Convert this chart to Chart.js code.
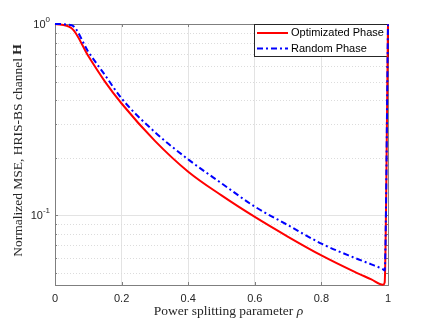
<!DOCTYPE html>
<html>
<head>
<meta charset="utf-8">
<script src="https://cdn.jsdelivr.net/npm/chart.js@4.4.1/dist/chart.umd.min.js"></script>
<style>
html,body{margin:0;padding:0;background:#fff;}
canvas{display:block;}
</style>
</head>
<body>
<canvas id="mse" width="429" height="323"></canvas>
<script>
// values
var rho      = [0, 0.05, 0.1, 0.15, 0.2, 0.3, 0.4, 0.5, 0.6, 0.7, 0.8, 0.9, 0.95, 0.985, 0.99, 1];
var mseOpt   = [1.0, 0.95, 0.68, 0.50, 0.384, 0.245, 0.169, 0.127, 0.098, 0.0772, 0.0617, 0.0506, 0.0462, 0.0433, 0.0445, 1.0];
var mseRand  = [1.0, 0.985, 0.716, 0.541, 0.408, 0.272, 0.196, 0.147, 0.111, 0.0887, 0.0711, 0.0599, 0.0554, 0.0522, 0.0515, 1.0];
var seriesNames = ['Optimizated Phase', 'Random Phase'];
var xTicks = [0, 0.2, 0.4, 0.6, 0.8, 1];
var yMajor = [0.1, 1];
var yMinor = [0.05, 0.06, 0.07, 0.08, 0.09, 0.2, 0.3, 0.4, 0.5, 0.6, 0.7, 0.8, 0.9];

var SANS = '"Liberation Sans", Arial, sans-serif';
var SERIF = '"Liberation Serif", "Times New Roman", serif';
var TXT = '#262626';
var AXIS = '#7f7f7f';
var GRID = '#e3e3e3';

function pts(ys){
	return rho.map(function(x, i){ return {x: x, y: ys[i]}; });
}

var matlabLook = {
	id: 'matlabLook',
	beforeDatasetsDraw: function(chart){
		var ctx = chart.ctx, a = chart.chartArea, ys = chart.scales.y, xs = chart.scales.x;
		ctx.save();
		// minor dotted grid
		ctx.strokeStyle = '#dcdcdc';
		ctx.lineWidth = 1;
		ctx.setLineDash([1, 2]);
		yMinor.forEach(function(v){
			var y = Math.round(ys.getPixelForValue(v)) + 0.5;
			ctx.beginPath(); ctx.moveTo(a.left, y); ctx.lineTo(a.right, y); ctx.stroke();
		});
		ctx.setLineDash([]);
		// box
		ctx.strokeStyle = AXIS;
		ctx.strokeRect(Math.round(a.left) + 0.5, Math.round(a.top) + 0.5, Math.round(a.right - a.left), Math.round(a.bottom - a.top));
		// inner ticks
		xTicks.forEach(function(v){
			var x = Math.round(xs.getPixelForValue(v)) + 0.5;
			ctx.beginPath();
			ctx.moveTo(x, a.bottom); ctx.lineTo(x, a.bottom - 3);
			ctx.moveTo(x, a.top); ctx.lineTo(x, a.top + 3);
			ctx.stroke();
		});
		yMajor.concat(yMinor).forEach(function(v){
			var y = Math.round(ys.getPixelForValue(v)) + 0.5;
			var len = yMajor.indexOf(v) >= 0 ? 3 : 2;
			ctx.beginPath();
			ctx.moveTo(a.left, y); ctx.lineTo(a.left + len, y);
			ctx.moveTo(a.right, y); ctx.lineTo(a.right - len, y);
			ctx.stroke();
		});

		// legend inside top-right (under the curves, the vertical rise at rho=1 shows on its edge)
		var lw = 134, lh = 32, lx = a.right - lw, ly = a.top;
		ctx.fillStyle = '#fff';
		ctx.fillRect(lx, ly, lw, lh);
		ctx.strokeStyle = TXT;
		ctx.lineWidth = 1;
		ctx.strokeRect(Math.round(lx) + 0.5, Math.round(ly) + 0.5, lw, lh);
		chart.data.datasets.forEach(function(ds, i){
			var ry = ly + 9 + i * 15.5;
			ctx.strokeStyle = ds.borderColor;
			ctx.lineWidth = 2;
			ctx.setLineDash(ds.borderDash || []);
			ctx.beginPath(); ctx.moveTo(lx + 3, ry); ctx.lineTo(lx + 34, ry); ctx.stroke();
			ctx.setLineDash([]);
			ctx.fillStyle = '#000';
			ctx.font = '11px ' + SANS;
			ctx.textAlign = 'left';
			ctx.textBaseline = 'middle';
			ctx.fillText(ds.label, lx + 37, ry);
		});
		ctx.restore();
	},
	afterDatasetsDraw: function(chart){
		var ctx = chart.ctx, a = chart.chartArea, ys = chart.scales.y;
		ctx.save();

		// y tick labels 10^n
		ctx.fillStyle = TXT;
		ctx.textAlign = 'right';
		ctx.textBaseline = 'middle';
		yMajor.forEach(function(v){
			var y = ys.getPixelForValue(v);
			var exp = String(Math.round(Math.log10(v)));
			ctx.font = '8px ' + SANS;
			var ew = ctx.measureText(exp).width;
			ctx.fillText(exp, 50, y - 4);
			ctx.font = '11px ' + SANS;
			ctx.fillText('10', 50 - ew, y + 1);
		});

		// axis titles with mixed styles
		ctx.fillStyle = TXT;
		ctx.textBaseline = 'middle';
		ctx.textAlign = 'left';
		var base = 'Power splitting parameter ', sym = '\u03c1';
		ctx.font = '13.5px ' + SERIF;
		var w1 = ctx.measureText(base).width;
		ctx.font = 'italic 13.5px ' + SERIF;
		var w2 = ctx.measureText(sym).width;
		var cx = (a.left + a.right) / 2 + 7;
		var sx = cx - (w1 + w2) / 2;
		ctx.font = '13.5px ' + SERIF;
		ctx.fillText(base, sx, 311);
		ctx.font = 'italic 13.5px ' + SERIF;
		ctx.fillText(sym, sx + w1, 311);

		ctx.translate(18, (a.top + a.bottom) / 2 - 4);
		ctx.rotate(-Math.PI / 2);
		var yb = 'Normalized MSE, HRIS-BS channel ', ysym = 'H';
		ctx.font = '13.5px ' + SERIF;
		var v1 = ctx.measureText(yb).width;
		ctx.font = 'bold 13.5px ' + SERIF;
		var v2 = ctx.measureText(ysym).width;
		var st = -(v1 + v2) / 2;
		ctx.font = '13.5px ' + SERIF;
		ctx.fillText(yb, st, 0);
		ctx.font = 'bold 13.5px ' + SERIF;
		ctx.fillText(ysym, st + v1, 0);

		ctx.restore();
	}
};

new Chart(document.getElementById('mse'), {
	type: 'line',
	data: {
		datasets: [
			{
				label: seriesNames[0],
				data: pts(mseOpt),
				borderColor: '#ff0000',
				borderWidth: 2,
				pointRadius: 0,
				cubicInterpolationMode: 'monotone',
				order: 1,
				clip: 4
			},
			{
				label: seriesNames[1],
				data: pts(mseRand),
				borderColor: '#0000ff',
				borderWidth: 2,
				borderDash: [6, 3, 2, 3],
				pointRadius: 0,
				cubicInterpolationMode: 'monotone',
				order: 0,
				clip: 4
			}
		]
	},
	options: {
		responsive: false,
		animation: false,
		layout: { padding: { top: 24, right: 41, left: 0, bottom: 0 } },
		plugins: { legend: { display: false }, tooltip: { enabled: false } },
		scales: {
			x: {
				type: 'linear',
				min: 0,
				max: 1,
				afterBuildTicks: function(s){ s.ticks = xTicks.map(function(v){ return {value: v}; }); },
				afterFit: function(s){ s.height = 38; },
				grid: {
					drawTicks: false,
					color: function(c){ return (c.tick && (c.tick.value === 0 || c.tick.value === 1)) ? 'rgba(0,0,0,0)' : GRID; }
				},
				border: { display: false },
				ticks: {
					padding: 7,
					color: TXT,
					font: { family: SANS, size: 11 },
					maxRotation: 0,
					callback: function(v){ return String(v); }
				}
			},
			y: {
				type: 'logarithmic',
				min: 0.0432,
				max: 1,
				afterBuildTicks: function(s){
					s.ticks = yMinor.concat(yMajor).sort(function(p, q){ return p - q; }).map(function(v){ return {value: v}; });
				},
				afterFit: function(s){ s.width = 55; },
				grid: {
					drawTicks: false,
					color: function(c){ return (c.tick && yMajor.indexOf(c.tick.value) >= 0) ? GRID : 'rgba(0,0,0,0)'; }
				},
				border: { display: false },
				ticks: { display: false }
			}
		}
	},
	plugins: [matlabLook]
});
</script>
</body>
</html>
